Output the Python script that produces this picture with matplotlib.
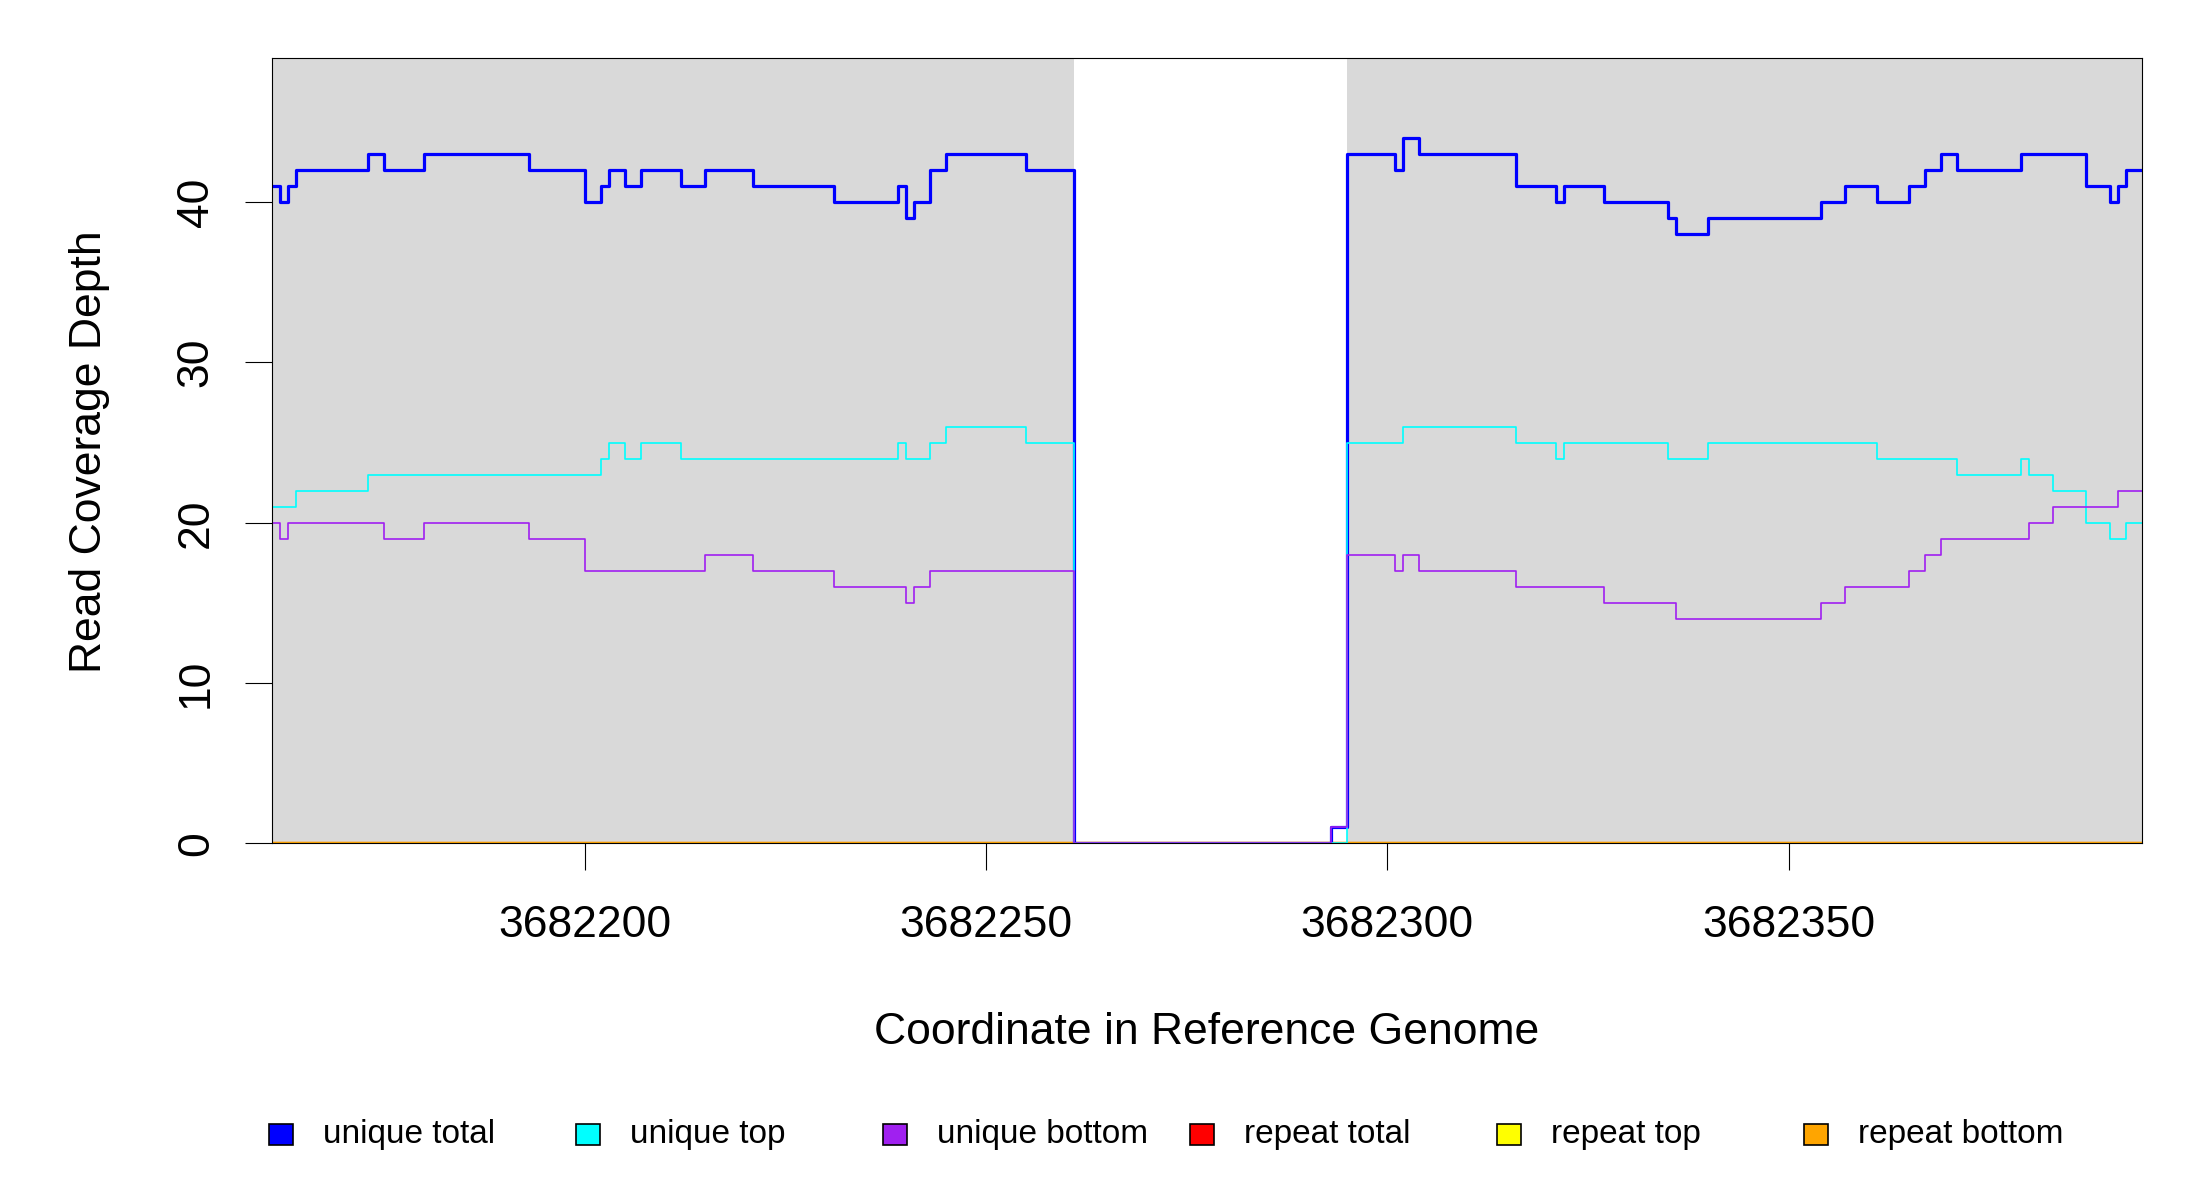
import numpy as np
import matplotlib.pyplot as plt
from matplotlib.patches import Rectangle

plt.rcParams['font.family'] = ['Liberation Sans', 'DejaVu Sans']

# coverage runs: value holds from each position up to the next one
total_pos = [3682161, 3682162, 3682163, 3682164, 3682173, 3682175, 3682180, 3682193, 3682200, 3682202,
             3682203, 3682205, 3682207, 3682212, 3682215, 3682221, 3682231, 3682239, 3682240, 3682241,
             3682243, 3682245, 3682255, 3682261, 3682293, 3682295, 3682301, 3682302, 3682304, 3682316,
             3682321, 3682322, 3682327, 3682335, 3682336, 3682340, 3682354, 3682357, 3682361, 3682365,
             3682367, 3682369, 3682371, 3682379, 3682387, 3682390, 3682391, 3682392]
total_val = [41, 40, 41, 42, 43, 42, 43, 42, 40, 41,
             42, 41, 42, 41, 42, 41, 40, 41, 39, 40,
             42, 43, 42, 0, 1, 43, 42, 44, 43, 41,
             40, 41, 40, 39, 38, 39, 40, 41, 40, 41,
             42, 43, 42, 43, 41, 40, 41, 42]

top_pos = [3682161, 3682164, 3682173, 3682202, 3682203, 3682205, 3682207, 3682212, 3682239, 3682240,
           3682243, 3682245, 3682255, 3682261, 3682295, 3682302, 3682316, 3682321, 3682322, 3682335,
           3682340, 3682361, 3682371, 3682379, 3682380, 3682383, 3682387, 3682390, 3682392]
top_val = [21, 22, 23, 24, 25, 24, 25, 24, 25, 24,
           25, 26, 25, 0, 25, 26, 25, 24, 25, 24,
           25, 24, 23, 24, 23, 22, 20, 19, 20]

bottom_pos = [3682161, 3682162, 3682163, 3682175, 3682180, 3682193, 3682200, 3682215, 3682221, 3682231,
              3682240, 3682241, 3682243, 3682261, 3682293, 3682295, 3682301, 3682302, 3682304, 3682316,
              3682327, 3682336, 3682354, 3682357, 3682365, 3682367, 3682369, 3682380, 3682383, 3682391]
bottom_val = [20, 19, 20, 19, 20, 19, 17, 18, 17, 16,
              15, 16, 17, 0, 1, 18, 17, 18, 17, 16,
              15, 14, 15, 16, 17, 18, 19, 20, 21, 22]

repeat_pos = [3682161]
repeat_total_val = [0]
repeat_top_val = [0]
repeat_bottom_val = [0]

x_end = 3682394
shaded = [(3682161, 3682261), (3682295, 3682394)]
xticks = [3682200, 3682250, 3682300, 3682350]
yticks = [0, 10, 20, 30, 40]

labels = ['unique total', 'unique top', 'unique bottom', 'repeat total', 'repeat top', 'repeat bottom']
colors = ['#0000ff', '#00ffff', '#a020f0', '#ff0000', '#ffff00', '#ffa500']


def steps(pos, val):
    return list(pos) + [x_end], list(val) + [val[-1]]


fig = plt.figure(figsize=(22, 12), dpi=100)
ax = fig.add_axes([0.1235, 0.2971, 0.85, 0.6548])

for a, b in shaded:
    ax.axvspan(a, b, color='#d9d9d9', lw=0, zorder=0)

# repeat lines first, unique ones drawn over them
for val, c in zip([repeat_total_val, repeat_top_val, repeat_bottom_val], colors[3:]):
    x, y = steps(repeat_pos, val)
    ax.plot(x, y, drawstyle='steps-post', color=c, lw=1.6, zorder=2)

x, y = steps(total_pos, total_val)
ax.plot(x, y, drawstyle='steps-post', color=colors[0], lw=2.3, zorder=3)
x, y = steps(top_pos, top_val)
ax.plot(x, y, drawstyle='steps-post', color=colors[1], lw=1.2, zorder=4)
x, y = steps(bottom_pos, bottom_val)
ax.plot(x, y, drawstyle='steps-post', color=colors[2], lw=1.2, zorder=5)

ax.set_xlim(3682161, x_end)
ax.set_ylim(0, 49)
ax.set_xticks(xticks)
ax.set_xticklabels([str(t) for t in xticks])
ax.set_yticks(yticks)
ax.set_yticklabels([str(t) for t in yticks], rotation=90, va='center')
ax.tick_params(axis='x', length=19.5, width=0.8, pad=25, labelsize=32)
ax.tick_params(axis='y', length=19.5, width=0.8, pad=20, labelsize=32)
for s in ax.spines.values():
    s.set_linewidth(0.8)
    s.set_zorder(6)

fig.text(1206.7 / 2200, 1 - 1033 / 1200, 'Coordinate in Reference Genome',
         ha='center', va='center', fontsize=32)
fig.text(90 / 2200, 1 - 452 / 1200, 'Read Coverage Depth',
         ha='center', va='center', rotation=90, fontsize=32)

# legend row along the bottom, evenly spaced like the original
for i, (lab, c) in enumerate(zip(labels, colors)):
    cx = 281 + 307 * i
    fig.patches.append(Rectangle(((cx - 12) / 2200, 1 - 1145 / 1200), 24 / 2200, 21 / 1200,
                                 transform=fig.transFigure, facecolor=c, edgecolor='black', lw=1.2))
    fig.text((cx + 42) / 2200, 1 - 1135 / 1200, lab, ha='left', va='center', fontsize=24)

fig.savefig('out.png', dpi=100)
